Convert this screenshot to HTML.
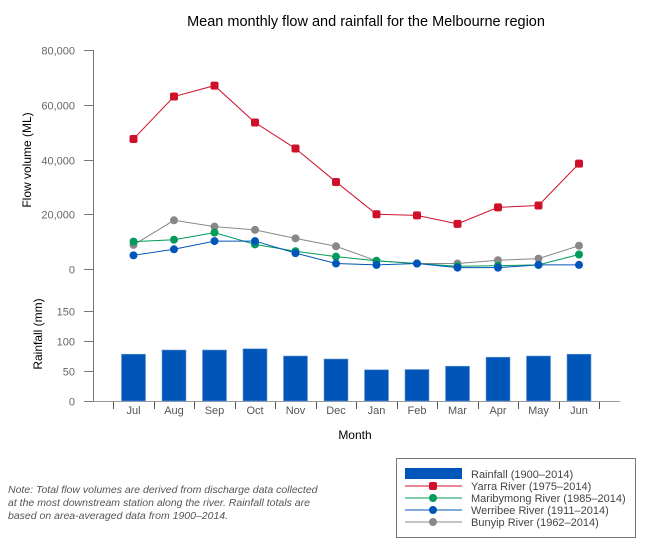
<!DOCTYPE html>
<html><head><meta charset="utf-8"><style>
body{margin:0;background:#fff;font-family:"Liberation Sans",sans-serif}
svg text{font-family:"Liberation Sans",sans-serif}
</style></head><body>
<svg width="650" height="542" viewBox="0 0 650 542">
<text x="366" y="26" font-size="14.5" text-anchor="middle" fill="#000">Mean monthly flow and rainfall for the Melbourne region</text>
<g id="axes"></g>
<g id="bars"></g>
<g id="lines"></g>
<text transform="translate(31,160) rotate(-90)" font-size="12" text-anchor="middle">Flow volume (ML)</text>
<text transform="translate(42,334) rotate(-90)" font-size="12" text-anchor="middle">Rainfall (mm)</text>
<text x="355" y="439" font-size="12" text-anchor="middle">Month</text>
<g font-size="10.5" font-style="italic" fill="#555">
<text x="8" y="493">Note: Total flow volumes are derived from discharge data collected</text>
<text x="8" y="506">at the most downstream station along the river. Rainfall totals are</text>
<text x="8" y="519">based on area-averaged data from 1900–2014.</text>
</g>
<g>
<rect x="396.5" y="458.5" width="239" height="79" fill="#fff" stroke="#777"/>
<g><rect x="405" y="468" width="57" height="11" fill="#0055b8"/><text x="471" y="478" font-size="11" fill="#444">Rainfall (1900–2014)</text></g>
<g><line x1="405" x2="462" y1="486" y2="486" stroke="#d0102a"/><rect x="429" y="482" width="8" height="8" rx="2" fill="#d0102a"/><text x="471" y="490" font-size="11" fill="#444">Yarra River (1975–2014)</text></g>
<g><line x1="405" x2="462" y1="498" y2="498" stroke="#009a5a"/><circle cx="433" cy="498" r="4" fill="#009a5a"/><text x="471" y="502" font-size="11" fill="#444">Maribymong River (1985–2014)</text></g>
<g><line x1="405" x2="462" y1="510" y2="510" stroke="#0055b8"/><circle cx="433" cy="510" r="4" fill="#0055b8"/><text x="471" y="514" font-size="11" fill="#444">Werribee River (1911–2014)</text></g>
<g><line x1="405" x2="462" y1="522" y2="522" stroke="#888"/><circle cx="433" cy="522" r="4" fill="#888"/><text x="471" y="526" font-size="11" fill="#444">Bunyip River (1962–2014)</text></g>
</g>
</svg>
<script>
const months=["Jul","Aug","Sep","Oct","Nov","Dec","Jan","Feb","Mar","Apr","May","Jun"];
const rainfall=[78,85,85,87,75,70,52,52.5,58,73,75,78];
const yarra=[47500,63000,67000,53500,44000,31800,20000,19600,16500,22500,23200,38500];
const maribyrnong=[10000,10700,13300,9000,6500,4500,3000,2000,1000,1200,1500,5300];
const werribee=[5000,7200,10200,10200,5800,2000,1500,2000,500,500,1500,1500];
const bunyip=[8800,17800,15500,14300,11200,8300,3000,2000,2000,3200,3800,8500];
const flowTicks=[0,20000,40000,60000,80000];
const flowTickLabels=["0","20,000","40,000","60,000","80,000"];
const rainTicks=[0,50,100,150];
const NS="http://www.w3.org/2000/svg";
const xC=i=>133.5+i*40.5;
const yF=v=>269-v*(219/80000);
const yR=v=>401-v*(90/150);
function mk(tag,attrs,parent,txt){const e=document.createElementNS(NS,tag);for(const k in attrs)e.setAttribute(k,attrs[k]);if(txt!==undefined)e.textContent=txt;parent.appendChild(e);return e;}
const axes=document.getElementById('axes');
let l=mk('line',{x1:93.5,x2:93.5,y1:50,y2:401,stroke:'#777'},axes);


l=mk('line',{x1:84,x2:620,y1:401.5,y2:401.5,stroke:'#999'},axes);


flowTicks.forEach((t,i)=>{const y=Math.round(yF(t))+0.5;
 mk('line',{x1:84,x2:93,y1:y,y2:y,stroke:'#777'},axes);
 const tx=mk('text',{x:75,y:y+4,'font-size':11,'text-anchor':'end',fill:'#666'},axes,flowTickLabels[i]);
 
 });
rainTicks.forEach(t=>{const y=Math.round(yR(t))+0.5;
 mk('line',{x1:84,x2:93,y1:y,y2:y,stroke:'#777'},axes);
 const tx=mk('text',{x:75,y:y+4,'font-size':11,'text-anchor':'end',fill:'#666'},axes,String(t));
 
 });
for(let i=0;i<=months.length;i++){const x=Math.round(xC(i)-20.25)+0.5;mk('line',{x1:x,x2:x,y1:402,y2:409,stroke:'#555'},axes);}
months.forEach((m,i)=>{const tx=mk('text',{x:xC(i),y:414,'font-size':11,'text-anchor':'middle',fill:'#555'},axes,m);
 
 });
const bars=document.getElementById('bars');
rainfall.forEach((v,i)=>{const r=mk('rect',{x:xC(i)-12,y:yR(v),width:24,height:401-yR(v),fill:'#0055b8',stroke:'#6a9ad8','stroke-width':0.6},bars);
 
 });
const lines=document.getElementById('lines');
const series=[[bunyip,'#888','bunyip',false],[maribyrnong,'#009a5a','maribyrnong',false],[werribee,'#0055b8','werribee',false],[yarra,'#d0102a','yarra',true]];
series.forEach(([d,c,n,sq])=>{
 const p=mk('polyline',{points:d.map((v,i)=>xC(i)+','+yF(v)).join(' '),fill:'none',stroke:c,'stroke-width':1},lines);
 
 
 d.forEach((v,i)=>{let m;
  if(sq)m=mk('rect',{x:xC(i)-4,y:yF(v)-4,width:8,height:8,rx:2,fill:c},lines);
  else m=mk('circle',{cx:xC(i),cy:yF(v),r:4,fill:c},lines);
  
  });
});
</script>
</body></html>
